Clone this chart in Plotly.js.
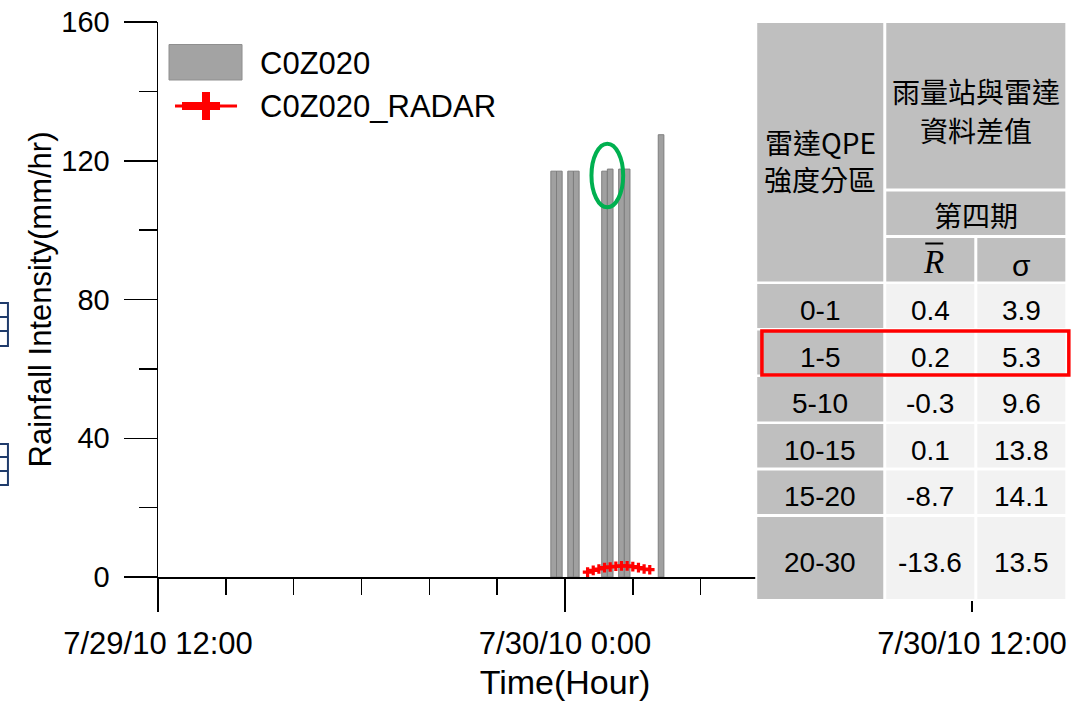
<!DOCTYPE html>
<html><head><meta charset="utf-8">
<script src="https://cdn.plot.ly/plotly-3.0.1.min.js"></script>
<style>html,body{margin:0;padding:0;background:#fff}#chart{width:1071px;height:701px}</style>
</head><body><div id="chart"></div>
<script>
// ---------- data ----------
const seriesNames = ['C0Z020', 'C0Z020_RADAR'];
const gaugeTimes = ['2010-07-29 23:40','2010-07-29 23:50','2010-07-30 00:10','2010-07-30 00:20',
                    '2010-07-30 01:10','2010-07-30 01:20','2010-07-30 01:40','2010-07-30 01:50','2010-07-30 02:50'];
const gaugeValues = [117, 117, 117, 117, 117, 117.6, 117.6, 117.6, 127.5];
const radarTimes = ['2010-07-30 00:40','2010-07-30 00:50','2010-07-30 01:00','2010-07-30 01:10',
                    '2010-07-30 01:20','2010-07-30 01:30','2010-07-30 01:40','2010-07-30 01:50',
                    '2010-07-30 02:00','2010-07-30 02:10','2010-07-30 02:20','2010-07-30 02:30'];
const radarValues = [1.4, 1.9, 2.3, 2.7, 2.9, 3.1, 3.2, 3.2, 3.0, 2.7, 2.3, 2.1];
const xRange = ['2010-07-29 12:00', '2010-07-30 12:00:05'];
const xTickVals = ['2010-07-29 12:00', '2010-07-30 00:00', '2010-07-30 12:00'];
const xTickText = ['7/29/10 12:00', '7/30/10 0:00', '7/30/10 12:00'];
const yTickVals = [0, 40, 80, 120, 160];
const xTitle = 'Time(Hour)';
const yTitle = 'Rainfall Intensity(mm/hr)';
// table
const headZone = ['雷達QPE', '強度分區'];
const headDiff = ['雨量站與雷達', '資料差值'];
const headPeriod = '第四期';
const headStats = ['R', 'σ'];
const zones = ['0-1', '1-5', '5-10', '10-15', '15-20', '20-30'];
const rBar = ['0.4', '0.2', '-0.3', '0.1', '-8.7', '-13.6'];
const sigma = ['3.9', '5.3', '9.6', '13.8', '14.1', '13.5'];

// ---------- geometry helpers (pixel -> paper) ----------
const W = 1071, H = 701;
const ML = 158, MR = W - 971.7, MT = 22, MB = H - 577;
const PW = W - ML - MR, PH = H - MT - MB;
const px = x => (x - ML) / PW;
const py = y => (H - MB - y) / PH;

const FONT = 'Liberation Sans, Arial, sans-serif';
const CJK = 'Noto Sans CJK TC, Noto Sans CJK SC, sans-serif';

const shapes = [];
const annotations = [];
function rect(x0, y0, x1, y1, fill, lineColor, lw) {
  shapes.push({type:'rect', xref:'paper', yref:'paper', x0:px(x0), x1:px(x1), y0:py(y1), y1:py(y0),
    fillcolor: fill || 'rgba(0,0,0,0)', line:{color: lineColor || 'rgba(0,0,0,0)', width: lw || 0}, layer:'above'});
}
function line(x0, y0, x1, y1, color, lw) {
  shapes.push({type:'line', xref:'paper', yref:'paper', x0:px(x0), x1:px(x1), y0:py(y0), y1:py(y1),
    line:{color, width:lw}, layer:'above'});
}
function text(t, x, y, size, family, anchor, color, italic) {
  annotations.push({text: italic ? '<i>' + t + '</i>' : t, xref:'paper', yref:'paper', x:px(x), y:py(y),
    xanchor: anchor || 'center', yanchor:'middle', showarrow:false,
    font:{size, family: family || FONT, color: color || '#000'}});
}

// ---------- custom legend ----------
rect(169, 44.5, 242, 80, '#a3a3a3', '#8f8f8f', 1);
line(175, 106, 237, 106, '#ff0000', 3);
rect(182, 102, 220, 110, '#ff0000');
rect(202, 92, 210, 120, '#ff0000');
text(seriesNames[0], 258, 63, 31, FONT, 'left');
text(seriesNames[1], 258, 106, 31, FONT, 'left');

// ---------- left edge fragments (dark-blue boxes) ----------
const navy = '#1f3b6b';
rect(-30, 303, 8, 346, null, navy, 2);
line(-30, 317, 8, 317, navy, 2);
line(-30, 331, 8, 331, navy, 2);
rect(-30, 444, 8, 485, null, navy, 2);
line(-30, 457, 8, 457, navy, 2);
line(-30, 471, 8, 471, navy, 2);

// ---------- table ----------
const G = '#bfbfbf', Lt = '#f2f2f2';
const cols = [[757, 883], [886, 974], [977, 1065]];
rect(755, 21, 1067, 601, '#ffffff');
rect(cols[0][0], 23, cols[0][1], 281.5, G);
rect(cols[1][0], 23, cols[2][1], 188.5, G);
rect(cols[1][0], 191.5, cols[2][1], 235, G);
rect(cols[1][0], 238, cols[1][1], 281.5, G);
rect(cols[2][0], 238, cols[2][1], 281.5, G);
const rowTop = [284, 330.5, 377, 424, 470.5, 517];
const rowBot = [328, 374.5, 421.5, 467.5, 514, 599];
const cx = cols.map(c => (c[0] + c[1]) / 2);
text(headZone[0], cx[0], 142, 28, CJK);
text(headZone[1], cx[0], 179, 28, CJK);
text(headDiff[0], (cols[1][0] + cols[2][1]) / 2, 91, 28, CJK);
text(headDiff[1], (cols[1][0] + cols[2][1]) / 2, 130, 28, CJK);
text(headPeriod, (cols[1][0] + cols[2][1]) / 2, 215, 28, CJK);
text(headStats[0], cx[1] + 3, 262, 33, 'Liberation Serif, serif', 'center', '#000', true);
line(925, 243.5, 943, 243.5, '#000', 2);
text(headStats[1], cx[2], 265, 30, FONT);
zones.forEach((z, i) => {
  rect(cols[0][0], rowTop[i], cols[0][1], rowBot[i], G);
  rect(cols[1][0], rowTop[i], cols[1][1], rowBot[i], Lt);
  rect(cols[2][0], rowTop[i], cols[2][1], rowBot[i], Lt);
  const yc = (rowTop[i] + rowBot[i]) / 2 + 4.5;
  text(z, cx[0], yc, 28);
  text(rBar[i], cx[1], yc, 28);
  text(sigma[i], cx[2], yc, 28);
});

// ---------- highlight marks ----------
rect(761.7, 331, 1068.5, 375, null, '#ff0000', 3.5);
shapes.push({type:'circle', xref:'paper', yref:'paper', x0:px(591.3), x1:px(623), y0:py(207.3), y1:py(143.7),
  line:{color:'#00b050', width:4}, layer:'above'});

// ---------- traces ----------
const traces = [
  {type:'bar', name:seriesNames[0], x:gaugeTimes, y:gaugeValues, width:600000,
   marker:{color:'#a0a0a0', line:{color:'#7e7e7e', width:1}}, showlegend:false, hoverinfo:'x+y'},
  {type:'scatter', mode:'lines+markers', name:seriesNames[1], x:radarTimes, y:radarValues,
   line:{color:'#ff0000', width:2.5}, marker:{symbol:'cross', size:8, color:'#ff0000'},
   showlegend:false, cliponaxis:false}
];

const layout = {
  width:W, height:H, margin:{l:ML, r:MR, t:MT, b:MB, pad:0},
  paper_bgcolor:'#fff', plot_bgcolor:'#fff', showlegend:false,
  bargap:0,
  font:{family:FONT, color:'#000'},
  xaxis:{type:'date', range:xRange, tickmode:'array', tickvals:xTickVals, ticktext:xTickText,
    ticks:'outside', ticklen:33, tickwidth:1.5, tickcolor:'#000', showgrid:false, zeroline:false,
    showline:true, linecolor:'#000', linewidth:1.5, tickfont:{size:31, family:FONT}, ticklabelstandoff:5,
    ticklabeloverflow:'allow',
    minor:{dtick:7200000, tick0:'2010-07-29 12:00', ticks:'outside', ticklen:16, tickwidth:1.5, tickcolor:'#000', showgrid:false},
    title:{text:xTitle, font:{size:34, family:FONT}, standoff:22}},
  yaxis:{range:[0,160], tickmode:'array', tickvals:yTickVals,
    ticks:'outside', ticklen:33, tickwidth:1.5, tickcolor:'#000', showgrid:false, zeroline:false,
    showline:true, linecolor:'#000', linewidth:1.5, tickfont:{size:29, family:FONT}, ticklabelstandoff:8,
    minor:{dtick:20, tick0:0, ticks:'outside', ticklen:18, tickwidth:1.5, tickcolor:'#000', showgrid:false},
    title:{text:yTitle, font:{size:31, family:FONT}, standoff:0}},
  shapes, annotations
};
Plotly.newPlot('chart', traces, layout, {displayModeBar:false, staticPlot:true});
</script></body></html>
